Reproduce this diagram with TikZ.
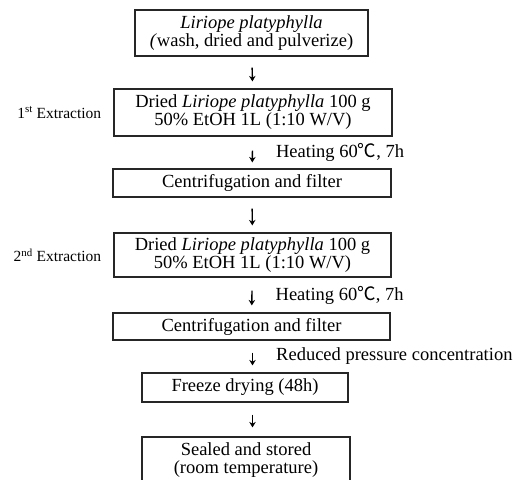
\documentclass[tikz,border=0pt]{standalone}
\usepackage{fontspec}
\setmainfont{Liberation Serif}
\newfontfamily\cjk{Noto Sans CJK SC}
\usetikzlibrary{positioning,arrows.meta}

\begin{document}
\begin{tikzpicture}[x=1pt, y=-1pt,
  box/.style={draw=black!85, line width=1.2pt, align=center, inner sep=0pt, font=\fontsize{18.5}{18}\selectfont},
  arr/.style={-{Stealth[length=5.5pt,width=6.5pt]}, line width=1.4pt, shorten <=11pt, shorten >=7pt},
  note/.style={anchor=west, xshift=23pt, inner sep=0pt, font=\fontsize{18.5}{18}\selectfont},
  side/.style={inner sep=0pt, font=\fontsize{15.5}{18}\selectfont}]
  \useasboundingbox (0,0) rectangle (527,479);
  \clip (0,0) rectangle (527,479);
  % boxes
  \node[box, minimum width=233pt, minimum height=46pt] (plant) at (251.5,33)
    {\textit{Liriope platyphylla}\\\textit{(}wash, dried and pulverize)};
  \node[box, minimum width=278pt, minimum height=47pt] (ext1) at (253,112.5)
    {Dried \textit{Liriope platyphylla} 100 g\\50\% EtOH 1L (1:10 W/V)};
  \node[box, minimum width=278pt, minimum height=28pt] (filt1) at (252,183) {Centrifugation and filter};
  \node[box, minimum width=277pt, minimum height=44pt] (ext2) at (252.5,255)
    {Dried \textit{Liriope platyphylla} 100 g\\50\% EtOH 1L (1:10 W/V)};
  \node[box, minimum width=277pt, minimum height=27pt] (filt2) at (251.5,326.5) {Centrifugation and filter};
  \node[box, minimum width=206pt, minimum height=29pt] (freeze) at (245,387.5) {Freeze drying (48h)};
  \node[box, minimum width=208pt, minimum height=47pt] (store) at (246,460.5)
    {Sealed and stored\\(room temperature)};
  % side labels
  \node[side, left=12pt of ext1] (lab1) {1\textsuperscript{st} Extraction};
  \node[side, left=12pt of ext2] (lab2) {2\textsuperscript{nd} Extraction};
  % arrows
  \draw[arr] (plant) -- (ext1);
  \draw[arr, shorten <=14pt, shorten >=6pt] (ext1) -- node[note] {Heating 60{\cjk ℃}, 7h} (filt1);
  \draw[arr] (filt1) -- (ext2);
  \draw[arr, shorten <=13pt, shorten >=7pt] (ext2) -- node[note] {Heating 60{\cjk ℃}, 7h} (filt2);
  \draw[arr, shorten <=12pt] (filt2.south -| ext2) -- node[note] {Reduced pressure concentration} (freeze.north -| ext2);
  \draw[arr, shorten <=12pt, shorten >=9pt] (freeze.south -| ext2) -- (store.north -| ext2);
\end{tikzpicture}
\end{document}
